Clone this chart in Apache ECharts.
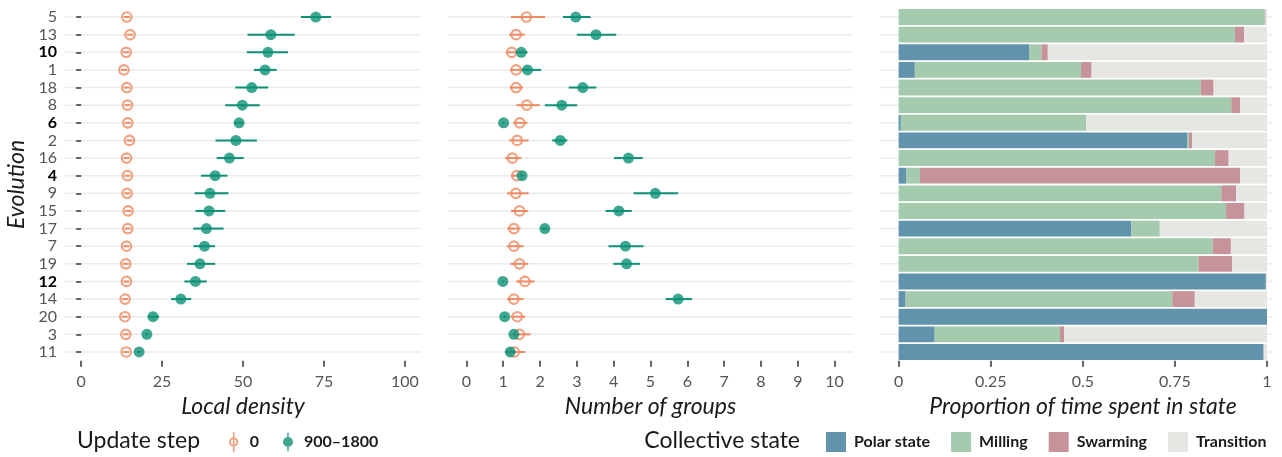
<!DOCTYPE html>
<html>
<head>
<meta charset="utf-8">
<script src="https://cdn.jsdelivr.net/npm/echarts@6/dist/echarts.min.js"></script>
<style>
  html, body { margin: 0; padding: 0; background: #fff; }
  #chart { width: 1282px; height: 457px; }
</style>
</head>
<body>
<div id="chart"></div>
<script>
// Evolutions, listed top to bottom
const evolutions = ['5','13','10','1','18','8','6','2','16','4','9','15','17','7','19','12','14','20','3','11'];
const boldEvolutions = ['10','6','4','12'];

// Local density at update step 0 (mean, low, high)
const densityStart    = [14.1,15.1,13.9,13.2,14.1,14.3,14.4,14.9,14.0,14.3,14.2,14.5,14.4,14.0,13.8,14.0,13.6,13.5,13.8,13.9];
const densityStartLo  = [13.2,14.2,13.0,12.3,13.2,13.4,13.5,14.0,13.1,13.4,13.3,13.6,13.5,13.1,12.9,13.1,12.7,12.6,12.9,13.0];
const densityStartHi  = [15.0,16.0,14.8,14.1,15.0,15.2,15.3,15.8,14.9,15.2,15.1,15.4,15.3,14.9,14.7,14.9,14.5,14.4,14.7,14.8];
// Local density at update steps 900–1800
const densityLate     = [72.5,58.6,57.7,56.8,52.7,49.8,48.8,47.8,45.8,41.4,39.8,39.5,38.7,38.1,36.7,35.3,30.8,22.2,20.3,17.9];
const densityLateLo   = [67.9,51.4,51.2,53.4,47.6,44.5,47.3,41.5,41.9,37.0,35.0,35.3,34.6,34.7,32.7,31.9,27.8,20.6,19.8,17.4];
const densityLateHi   = [77.2,66.0,63.9,60.4,57.8,55.2,50.1,54.3,50.2,45.2,45.5,44.5,44.0,41.4,41.4,38.8,34.0,24.1,20.8,18.4];

// Number of groups at update step 0
const groupsStart     = [1.63,1.35,1.23,1.35,1.35,1.64,1.45,1.38,1.25,1.37,1.34,1.44,1.29,1.29,1.44,1.59,1.29,1.38,1.44,1.30];
const groupsStartLo   = [1.21,1.16,1.07,1.18,1.18,1.36,1.27,1.16,1.05,1.21,1.10,1.21,1.11,1.10,1.20,1.35,1.10,1.20,1.29,1.18];
const groupsStartHi   = [2.14,1.59,1.38,1.50,1.54,1.99,1.66,1.69,1.49,1.45,1.69,1.68,1.47,1.55,1.68,1.85,1.55,1.60,1.74,1.59];
// Number of groups at update steps 900–1800
const groupsLate      = [2.97,3.52,1.49,1.66,3.16,2.59,1.01,2.55,4.40,1.51,5.13,4.14,2.13,4.32,4.35,0.99,5.75,1.04,1.29,1.19];
const groupsLateLo    = [2.62,3.00,1.36,1.49,2.78,2.13,0.99,2.33,4.01,1.45,4.54,3.78,2.05,3.86,3.99,0.97,5.41,1.00,1.25,1.07];
const groupsLateHi    = [3.37,4.07,1.66,2.03,3.53,3.01,1.03,2.74,4.79,1.57,5.75,4.49,2.21,4.81,4.71,1.01,6.13,1.08,1.33,1.31];

// Proportion of time spent in each collective state
const statePolar      = [0,0,0.354,0.044,0,0,0.006,0.783,0,0.020,0,0,0.632,0,0,0.997,0.019,1.0,0.098,0.991];
const stateMilling    = [0.994,0.913,0.034,0.451,0.820,0.903,0.503,0.005,0.859,0.038,0.876,0.889,0.077,0.853,0.814,0,0.724,0,0.340,0];
const stateSwarming   = [0.002,0.025,0.017,0.029,0.035,0.024,0,0.009,0.037,0.869,0.040,0.050,0,0.049,0.092,0,0.061,0,0.011,0];
const stateTransition = [0.004,0.062,0.595,0.476,0.145,0.073,0.491,0.203,0.104,0.073,0.084,0.061,0.291,0.098,0.094,0.003,0.196,0,0.551,0.009];

// Axis ticks
const densityTicks = [0, 25, 50, 75, 100];
const groupsTicks = [0, 1, 2, 3, 4, 5, 6, 7, 8, 9, 10];
const proportionTicks = [0, 0.25, 0.5, 0.75, 1];

const stepNames = ['0', '900\u20131800'];
const stateNames = ['Polar state', 'Milling', 'Swarming', 'Transition'];

const FONT = 'Lato, "Noto Sans", sans-serif';
const ORANGE = '#ef8a62';
const GREEN = '#0c9177';
const STATE_COLORS = ['#6193ad', '#a5cbaf', '#c7939b', '#e6e6e3'];

const chart = echarts.init(document.getElementById('chart'), null, { renderer: 'canvas' });

const gridTop = 8.2, gridHeight = 352.6;
const grids = [
  { left: 65,  top: gridTop, width: 356, height: gridHeight, outerBoundsMode: 'none', containLabel: false },
  { left: 448, top: gridTop, width: 405, height: gridHeight, outerBoundsMode: 'none', containLabel: false },
  { left: 880, top: gridTop, width: 392, height: gridHeight, outerBoundsMode: 'none', containLabel: false }
];

function xAxisFor(gridIndex, min, max, ticks, name, namePad) {
  return {
    type: 'value', gridIndex, min, max,
    name, nameLocation: 'middle', nameGap: 32,
    nameTextStyle: { fontFamily: FONT, fontStyle: 'italic', fontSize: 23, color: '#1a1a1a', padding: namePad || 0 },
    axisLine: { show: false },
    axisTick: { show: true, length: 6, customValues: ticks, lineStyle: { color: '#333', width: 1.5 } },
    axisLabel: { customValues: ticks, margin: 13, fontFamily: FONT, fontSize: 16, color: '#555',
                 formatter: v => String(v) },
    splitLine: { show: false }
  };
}

function yAxisFor(gridIndex, showLabels) {
  return {
    type: 'category', gridIndex, data: evolutions, inverse: true, boundaryGap: true,
    name: showLabels ? 'Evolution' : '', nameLocation: 'middle', nameGap: 37,
    nameTextStyle: { fontFamily: FONT, fontStyle: 'italic', fontSize: 23, color: '#1a1a1a' },
    axisLine: { show: false },
    axisTick: { show: showLabels, alignWithLabel: true, interval: 0, length: 5,
                lineStyle: { color: '#333', width: 1.5 } },
    axisLabel: {
      show: showLabels, interval: 0, margin: 8, fontFamily: FONT, fontSize: 16, color: '#555',
      formatter: v => boldEvolutions.includes(v) ? '{b|' + v + '}' : v,
      rich: { b: { fontFamily: FONT, fontSize: 16, fontWeight: 'bold', color: '#000' } }
    },
    splitLine: { show: false }
  };
}

// horizontal guide per evolution row, spanning the whole panel
function rowLines(gridIndex) {
  return {
    type: 'custom', xAxisIndex: gridIndex, yAxisIndex: gridIndex, z: 0, silent: true,
    data: evolutions.map((e, i) => [0, i]),
    encode: { x: 0, y: 1 },
    renderItem: (params, api) => {
      const y = api.coord([0, api.value(1)])[1];
      const cs = params.coordSys;
      return { type: 'line', shape: { x1: cs.x, y1: y, x2: cs.x + cs.width, y2: y },
               style: { stroke: '#ebebeb', lineWidth: 1.5 } };
    }
  };
}

function errorBars(gridIndex, lo, hi, color, name) {
  return {
    type: 'custom', name, xAxisIndex: gridIndex, yAxisIndex: gridIndex, z: 3, silent: true,
    data: lo.map((l, i) => [l, hi[i], i]),
    encode: { x: [0, 1], y: 2 },
    renderItem: (params, api) => {
      const r = api.value(2);
      const a = api.coord([api.value(0), r]);
      const b = api.coord([api.value(1), r]);
      return { type: 'line', shape: { x1: a[0], y1: a[1], x2: b[0], y2: b[1] },
               style: { stroke: color, lineWidth: 2 } };
    }
  };
}

function points(gridIndex, values, hollow, name) {
  return {
    type: 'scatter', name, xAxisIndex: gridIndex, yAxisIndex: gridIndex, z: hollow ? 4 : 5,
    data: values.map((v, i) => [v, i]),
    symbol: 'circle',
    symbolSize: hollow ? 9.5 : 11,
    itemStyle: hollow
      ? { color: 'rgba(255,255,255,0)', borderColor: ORANGE, borderWidth: 2.2 }
      : { color: GREEN, borderWidth: 0 },
    emphasis: { disabled: true },
    silent: true
  };
}

const stateSeries = [statePolar, stateMilling, stateSwarming, stateTransition].map((vals, k) => ({
  type: 'bar', name: stateNames[k], xAxisIndex: 2, yAxisIndex: 2, stack: 'state', z: 2,
  barWidth: '90%', data: vals,
  itemStyle: { color: STATE_COLORS[k] },
  emphasis: { disabled: true }, silent: true
}));

// legend keys: point with vertical error bar
const hollowKey = 'path://M4.2 0H5.8V20H4.2Z M5 5.3A4.7 4.7 0 1 1 5 14.7A4.7 4.7 0 1 1 5 5.3Z M5 7.2A2.8 2.8 0 1 0 5 12.8A2.8 2.8 0 1 0 5 7.2Z';
const solidKey = 'path://M4.2 0H5.8V20H4.2Z M5 4.6A5.4 5.4 0 1 1 5 15.4A5.4 5.4 0 1 1 5 4.6Z';

const option = {
  backgroundColor: '#fff',
  animation: false,
  textStyle: { fontFamily: FONT },
  grid: grids,
  xAxis: [
    xAxisFor(0, -5, 105, densityTicks, 'Local density'),
    xAxisFor(1, -0.5, 10.5, groupsTicks, 'Number of groups'),
    xAxisFor(2, -0.0505, 1.0136, proportionTicks, 'Proportion of time spent in state', [0, 0, 0, 14])
  ],
  yAxis: [yAxisFor(0, true), yAxisFor(1, false), yAxisFor(2, false)],
  legend: [
    {
      left: 229, top: 432, padding: 0, orient: 'horizontal', itemWidth: 10, itemHeight: 20, itemGap: 24,
      selectedMode: false,
      textStyle: { fontFamily: FONT, fontSize: 16, fontWeight: 'bold', color: '#1a1a1a', padding: [0, 0, 0, 6] },
      data: [
        { name: stepNames[0], icon: hollowKey, itemStyle: { color: ORANGE, borderWidth: 0 } },
        { name: stepNames[1], icon: solidKey, itemStyle: { color: GREEN, borderWidth: 0 } }
      ]
    },
    {
      left: 826, top: 432, padding: 0, orient: 'horizontal', itemWidth: 20, itemHeight: 20, itemGap: 21,
      selectedMode: false, icon: 'rect',
      textStyle: { fontFamily: FONT, fontSize: 16, fontWeight: 'bold', color: '#1a1a1a', padding: [0, 0, 0, 3] },
      data: stateNames
    }
  ],
  graphic: [
    { type: 'text', left: 77, top: 429,
      style: { text: 'Update step', font: '23px ' + FONT, fill: '#1a1a1a' } },
    { type: 'text', right: 482, top: 429,
      style: { text: 'Collective state', font: '23px ' + FONT, fill: '#1a1a1a' } }
  ],
  series: [
    rowLines(0), rowLines(1), rowLines(2),
    errorBars(0, densityStartLo, densityStartHi, ORANGE, 'e0'),
    points(0, densityStart, true, stepNames[0]),
    errorBars(0, densityLateLo, densityLateHi, GREEN, 'e1'),
    points(0, densityLate, false, stepNames[1]),
    errorBars(1, groupsStartLo, groupsStartHi, ORANGE, 'g0'),
    points(1, groupsStart, true, stepNames[0]),
    errorBars(1, groupsLateLo, groupsLateHi, GREEN, 'g1'),
    points(1, groupsLate, false, stepNames[1]),
    ...stateSeries
  ]
};

chart.setOption(option);
</script>
</body>
</html>
